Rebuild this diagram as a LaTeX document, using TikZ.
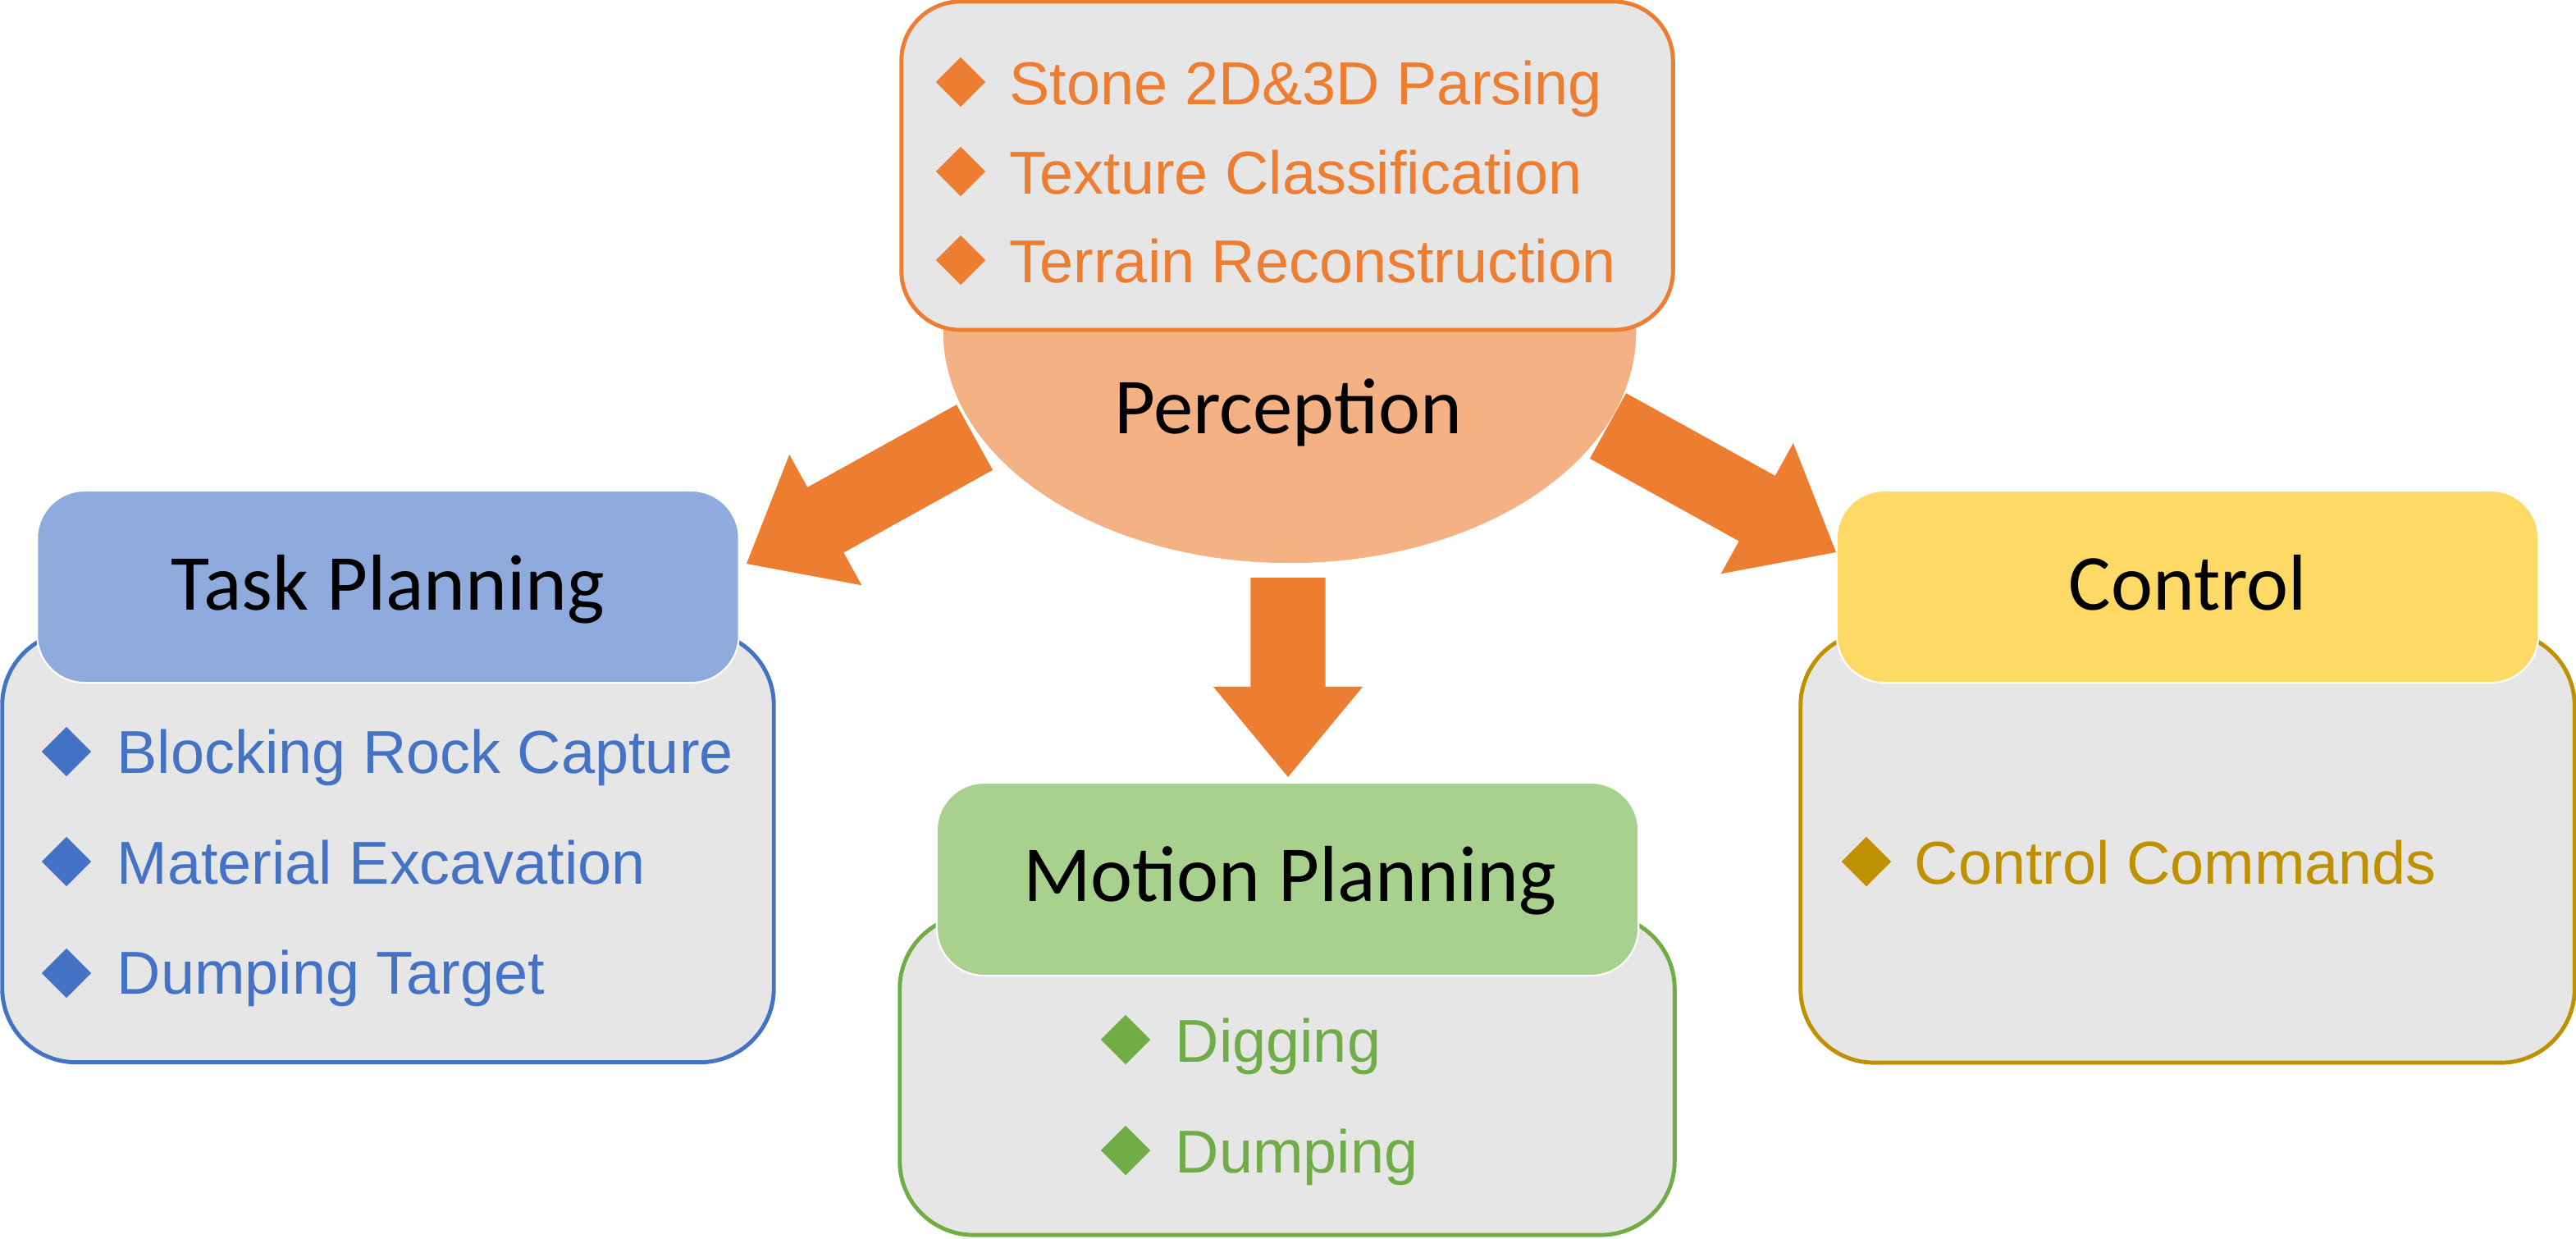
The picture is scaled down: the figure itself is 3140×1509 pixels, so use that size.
\documentclass[tikz,border=0pt]{standalone}
\usepackage{fontspec}
\setmainfont{Liberation Sans}
\newfontfamily\titlefont{Carlito}
\usetikzlibrary{shapes.geometric,calc}

\definecolor{percorange}{HTML}{ED7D31}
\definecolor{perclight}{HTML}{F4B183}
\definecolor{panelgray}{HTML}{E7E6E6}
\definecolor{taskblue}{HTML}{4472C4}
\definecolor{taskhead}{HTML}{8FAADC}
\definecolor{motiongreen}{HTML}{70AD47}
\definecolor{motionhead}{HTML}{A9D18E}
\definecolor{ctrlgold}{HTML}{BF9000}
\definecolor{ctrlhead}{HTML}{FFD966}

\tikzset{
  panel/.style={draw=#1, fill=panelgray, line width=1.4pt, rounded corners=0.9cm, inner sep=0pt},
  header/.style={draw=white, fill=#1, line width=0.6pt, rounded corners=0.58cm, inner sep=0pt,
    minimum width=8.55cm, minimum height=2.34cm},
  bullet/.style={diamond, fill=#1, inner sep=0pt, minimum width=0.61cm, minimum height=0.61cm},
  item/.style={anchor=base west, inner sep=0pt, text=#1, font=\fontsize{21}{25}\selectfont},
  title/.style={anchor=base, inner sep=0pt, font=\titlefont\fontsize{27.5}{33}\selectfont},
  arrowfill/.style={fill=percorange}
}

% block arrow from tail centre #1 to tip #2
\newcommand{\blockarrow}[2]{%
  \coordinate (ba) at ($(#2)!1.1cm!(#1)$);
  \fill[arrowfill] ($(#1)!0.455cm!90:(#2)$) -- ($(ba)!0.455cm!90:(#2)$)
    -- ($(ba)!0.91cm!90:(#2)$) -- (#2) -- ($(ba)!0.91cm!-90:(#2)$)
    -- ($(ba)!0.455cm!-90:(#2)$) -- ($(#1)!0.455cm!-90:(#2)$) -- cycle;}

\begin{document}
\begin{tikzpicture}[x=0.01cm, y=-0.01cm]
\useasboundingbox (0,0) rectangle (3140,1509);

% perception
\node[ellipse, fill=perclight, inner sep=0pt, minimum width=8.44cm, minimum height=5.62cm] (percdome) at (1572,405) {};
\node[panel=percorange, rounded corners=0.72cm, minimum width=9.4cm, minimum height=4.0cm] (percbox) at (1569,202) {};
\node[bullet=percorange] (perc1d) at (1171,100) {};
\node[item=percorange] (perc1) at (1230,127) {Stone 2D\&3D Parsing};
\node[bullet=percorange] (perc2d) at (1171,209) {};
\node[item=percorange] (perc2) at (1230,236) {Texture Classification};
\node[bullet=percorange] (perc3d) at (1171,317) {};
\node[item=percorange] (perc3) at (1230,344) {Terrain Reconstruction};
\node[title] (perctitle) at (1570,528) {Perception};

% task planning
\node[panel=taskblue, minimum width=9.4cm, minimum height=5.25cm] (taskbox) at (473,1032) {};
\node[header=taskhead] (taskhead) at (473,715) {};
\node[title] (tasktitle) at (473,743) {Task Planning};
\node[bullet=taskblue] (task1d) at (81,916) {};
\node[item=taskblue] (task1) at (142,942) {Blocking Rock Capture};
\node[bullet=taskblue] (task2d) at (81,1050) {};
\node[item=taskblue] (task2) at (142,1077) {Material Excavation};
\node[bullet=taskblue] (task3d) at (81,1186) {};
\node[item=taskblue] (task3) at (142,1211) {Dumping Target};

% motion planning
\node[panel=motiongreen, minimum width=9.44cm, minimum height=3.9cm] (motionbox) at (1569,1310) {};
\node[header=motionhead, minimum height=2.35cm] (motionhead) at (1569.5,1071.5) {};
\node[title] (motiontitle) at (1572,1098) {Motion Planning};
\node[bullet=motiongreen] (motion1d) at (1372,1267) {};
\node[item=motiongreen] (motion1) at (1432,1294) {Digging};
\node[bullet=motiongreen] (motion2d) at (1372,1402) {};
\node[item=motiongreen] (motion2) at (1432,1429) {Dumping};

% control
\node[panel=ctrlgold, minimum width=9.43cm, minimum height=5.25cm] (ctrlbox) at (2666.5,1032.5) {};
\node[header=ctrlhead] (ctrlhead) at (2666.5,715) {};
\node[title] (ctrltitle) at (2667,743) {Control};
\node[bullet=ctrlgold] (ctrl1d) at (2275,1050) {};
\node[item=ctrlgold] (ctrl1) at (2333,1077) {Control Commands};

% arrows
\coordinate (percL) at (1188,533);
\coordinate (taskin) at (910,687);
\coordinate (percR) at (1960,519);
\coordinate (ctrlin) at (2238,673);
\coordinate (percD) at (1570,704);
\coordinate (motionin) at (1570,947);
\blockarrow{percL}{taskin}
\blockarrow{percR}{ctrlin}
\blockarrow{percD}{motionin}
\end{tikzpicture}
\end{document}
